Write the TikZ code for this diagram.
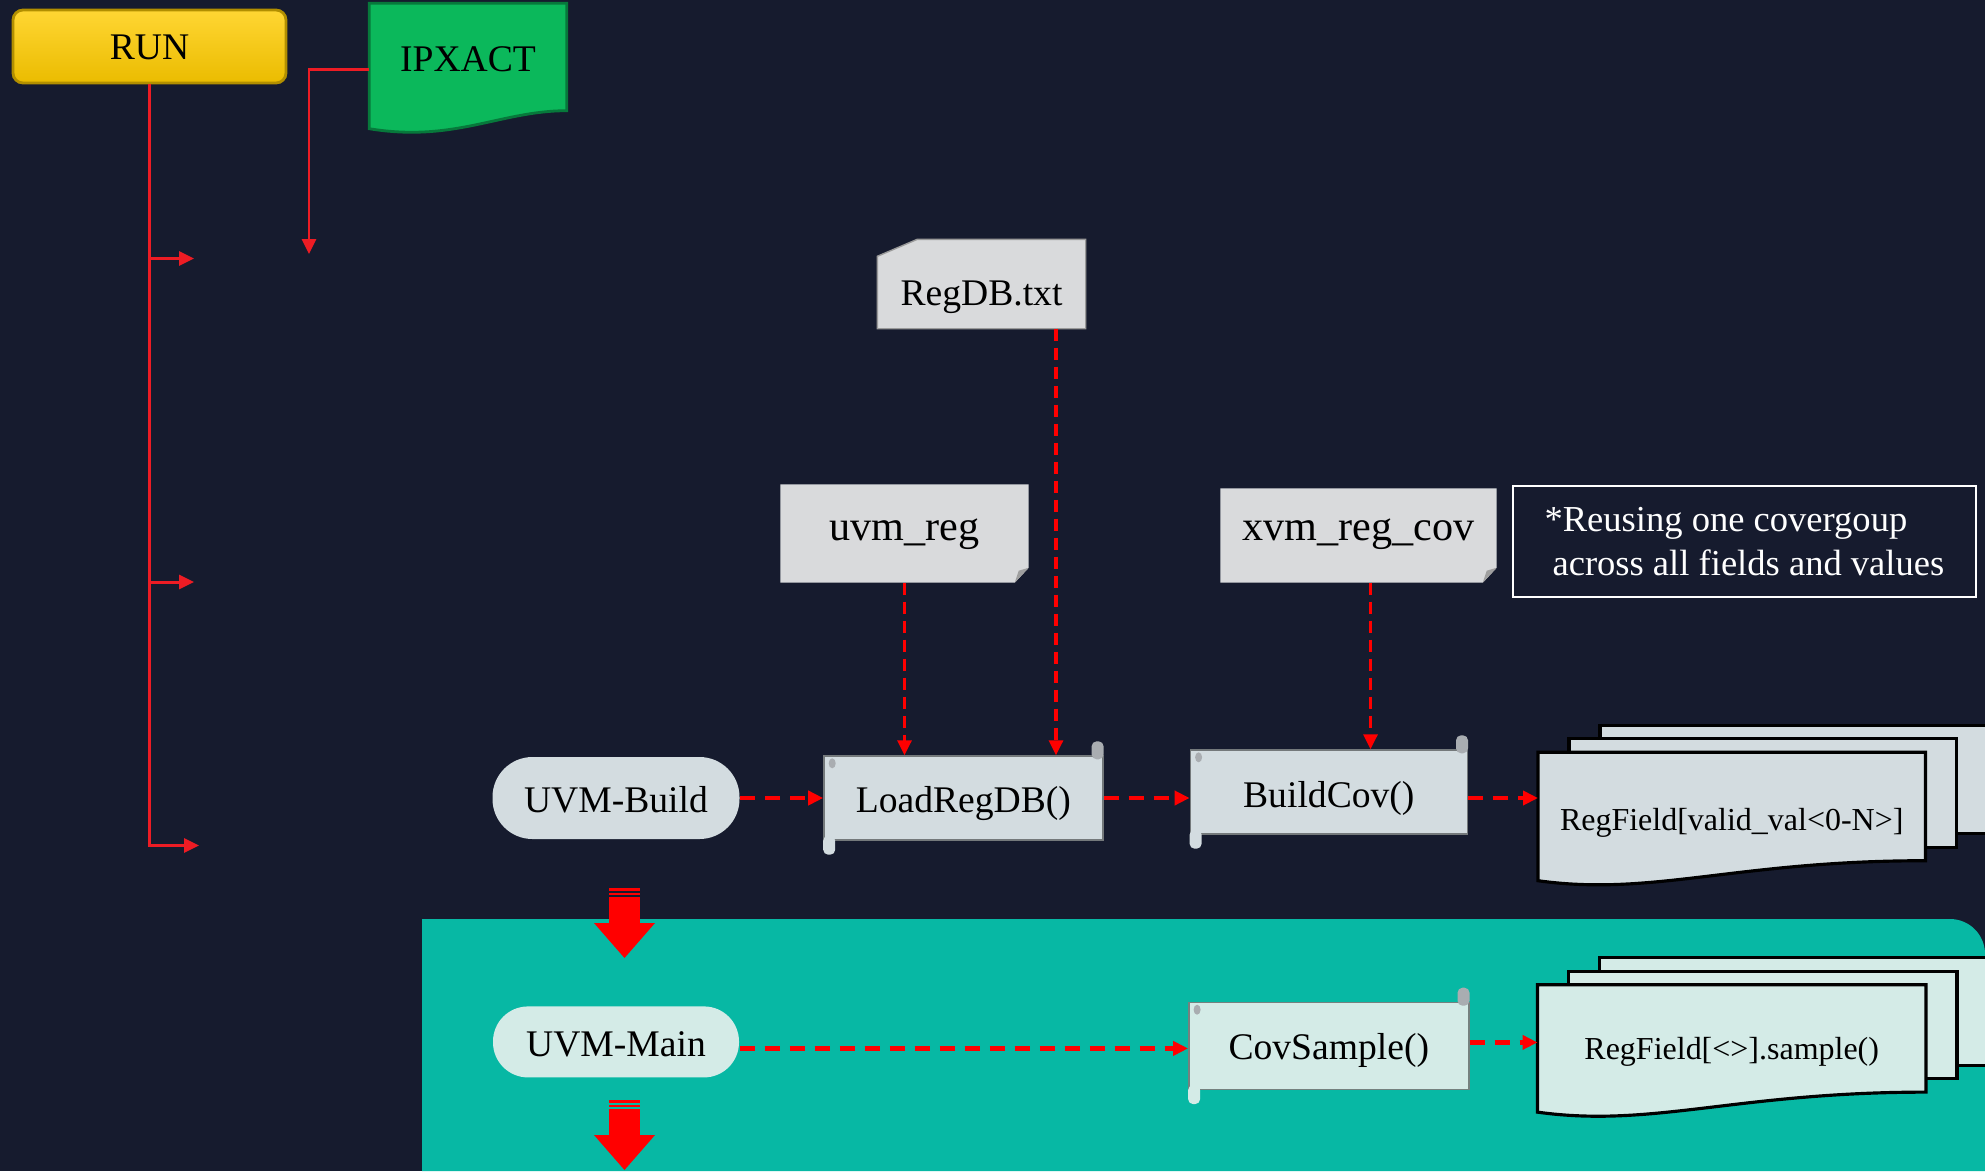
\documentclass[tikz,border=0pt]{standalone}
\usepackage{fontspec}
\setmainfont{Liberation Serif}
\usetikzlibrary{arrows.meta, positioning}

\definecolor{pagebg}{HTML}{161B2E}
\definecolor{tealbg}{HTML}{07B8A4}
\definecolor{cardgray}{HTML}{D9DADC}
\definecolor{bodygray}{HTML}{D3DCE0}
\definecolor{bodymint}{HTML}{D4EBE7}
\definecolor{curlgray}{HTML}{A9ADB1}
\definecolor{runyellow}{HTML}{FFCC00}
\definecolor{ipgreen}{HTML}{0BB85B}
\definecolor{runred}{HTML}{ED1C24}

\pgfdeclarelayer{bg}
\pgfsetlayers{bg,main}

\begin{document}
\begin{tikzpicture}[
        node distance=0.8cm,
        every node/.style={inner sep=0pt, font=\fontsize{10.7}{12.8}\selectfont},
        textbox/.style 2 args={text height=#1, text depth=#2},
        runbox/.style={rectangle, rounded corners=0.1cm, top color=runyellow!80!white, bottom color=runyellow!92!black, draw=runyellow!70!black, line width=0.8pt, minimum width=2.73cm},
        pillbox/.style={rectangle, rounded corners=#1, minimum width=2.47cm},
        scrollbox/.style={rectangle, fill=#1, draw=#1!55!black, line width=0.4pt, minimum width=2.79cm},
        sheettext/.style={minimum width=3.86cm, font=\fontsize{9.1}{11}\selectfont},
        notebox/.style={rectangle, draw=white, line width=0.7pt, text=white, align=left, minimum width=4.63cm, minimum height=1.11cm, font=\fontsize{10.4}{12.5}\selectfont},
        sheet/.style={draw=black, line width=0.9pt},
        runarrow/.style={-{Triangle[length=0.15cm, width=0.14cm]}, runred, line width=0.85pt},
        flowarrow/.style={-{Triangle[length=0.15cm, width=0.14cm]}, red, line width=1.2pt, dash pattern=on 0.15cm off 0.1cm},
        feedarrow/.style={-{Triangle[length=0.15cm, width=0.14cm]}, red, line width=0.9pt, dash pattern=on 0.12cm off 0.07cm}
    ]
        \useasboundingbox (0,0) rectangle (19.85,-11.71);

        % Inputs
        \node[runbox, textbox={0.49cm}{0.24cm}] (run) at (1.495,-0.465) {RUN};
        \node[minimum width=1.96cm, textbox={0.67cm}{0.39cm}] (ipxact) at (4.68,-0.57) {IPXACT};
        \node[minimum width=2.07cm, textbox={0.65cm}{0.23cm}] (regdb) at (9.815,-2.84) {RegDB.txt};
        \node[minimum width=2.47cm, textbox={0.55cm}{0.42cm}, font=\fontsize{12}{14}\selectfont] (uvmreg) at (9.045,-5.335) {uvm\_reg};
        \node[minimum width=2.75cm, textbox={0.51cm}{0.42cm}, font=\fontsize{12}{14}\selectfont] (xvm) at (13.585,-5.355) {xvm\_reg\_cov};
        \node[notebox, right=0.15cm of xvm, yshift=-0.06cm] (note) {*Reusing one covergoup\\\hspace*{0.08cm}across all fields and values};

        % Build phase
        \node[pillbox=0.4cm, fill=bodygray, textbox={0.55cm}{0.27cm}] (build) at (6.16,-7.98) {UVM-Build};
        \node[scrollbox=bodygray, textbox={0.56cm}{0.28cm}, right=0.83cm of build] (load) {LoadRegDB()};
        \node[scrollbox=bodygray, minimum width=2.77cm, textbox={0.57cm}{0.27cm}, right=0.86cm of load, yshift=0.06cm] (bcov) {BuildCov()};
        \node[sheettext, textbox={0.77cm}{0.30cm}, right=0.70cm of bcov, yshift=-0.145cm] (fieldA) {RegField[valid\_val<0-N>]};

        % Main phase
        \node[pillbox=0.35cm, fill=bodymint, minimum width=2.46cm, textbox={0.50cm}{0.21cm}, below=1.66cm of build] (main) {UVM-Main};
        \node[scrollbox=bodymint, minimum width=2.80cm, textbox={0.57cm}{0.30cm}, below=1.67cm of bcov] (csamp) {CovSample()};
        \node[sheettext, minimum width=3.87cm, textbox={0.74cm}{0.32cm}, below=1.24cm of fieldA] (fieldB) {RegField[<>].sample()};

        % Shapes behind the texts
        \begin{pgfonlayer}{bg}
            \fill[pagebg] (0,0) rectangle (19.85,-11.71);
            \fill[tealbg] (4.22,-11.71) -- (4.22,-9.19) -- (19.5,-9.19) arc[start angle=90, end angle=0, radius=0.35] -- (19.85,-11.71) -- cycle;
            \filldraw[fill=ipgreen, draw=ipgreen!65!black, line width=0.8pt] (ipxact.north west) -- (ipxact.north east) -- (ipxact.south east)
                .. controls ([xshift=-0.66cm]ipxact.south east) and ([shift={(0.85,-0.32)}]ipxact.south west) .. ([yshift=-0.18cm]ipxact.south west) -- cycle;
            \filldraw[fill=cardgray, draw=gray!80, line width=0.4pt] ([yshift=-0.17cm]regdb.north west) -- ([xshift=0.40cm]regdb.north west)
                -- (regdb.north east) -- (regdb.south east) -- (regdb.south west) -- cycle;
            \foreach \card in {uvmreg, xvm} {
                \fill[cardgray] (\card.north west) -- (\card.north east) -- ([yshift=0.15cm]\card.south east)
                    -- ([xshift=-0.14cm]\card.south east) -- (\card.south west) -- cycle;
                \fill[gray!75] ([yshift=0.15cm]\card.south east) -- ([xshift=-0.14cm]\card.south east) -- ([shift={(-0.1,0.12)}]\card.south east) -- cycle;
            }
            \foreach \sheet/\col in {fieldA/bodygray, fieldB/bodymint} {
                \filldraw[sheet, fill=\col] ([shift={(0.62,0.27)}]\sheet.south west) rectangle ([shift={(0.62,0.27)}]\sheet.north east);
                \filldraw[sheet, fill=\col] ([shift={(0.31,0.135)}]\sheet.south west) rectangle ([shift={(0.31,0.135)}]\sheet.north east);
                \filldraw[sheet, fill=\col] (\sheet.north west) -- (\sheet.north east) -- (\sheet.south east)
                    .. controls ([xshift=-1.9cm]\sheet.south east) and ([shift={(1.15,-0.36)}]\sheet.south west) .. ([yshift=-0.2cm]\sheet.south west) -- cycle;
            }
        \end{pgfonlayer}

        % Scroll curls
        \foreach \roll/\col in {load/bodygray, bcov/bodygray, csamp/bodymint} {
            \fill[curlgray, rounded corners=0.05cm] ([shift={(-0.12,-0.04)}]\roll.north east) rectangle ([yshift=0.14cm]\roll.north east);
            \fill[\col, rounded corners=0.05cm] ([yshift=0.05cm]\roll.south west) rectangle ([shift={(0.12,-0.14)}]\roll.south west);
            \fill[curlgray] ([shift={(0.09,-0.08)}]\roll.north west) ellipse [x radius=0.035cm, y radius=0.05cm];
        }

        % Run branches
        \coordinate (tipA) at (1.94,-2.585);
        \coordinate (tipB) at (1.94,-5.82);
        \coordinate (tipC) at (1.99,-8.455);
        \coordinate (tipD) at (3.09,-2.54);
        \draw[runarrow] (run.south) |- (tipC);
        \draw[runarrow] (run.south |- tipA) -- (tipA);
        \draw[runarrow] (run.south |- tipB) -- (tipB);
        \draw[runarrow] ([yshift=-0.12cm]ipxact.west) -| (tipD);

        % Arrows down
        \draw[feedarrow] (uvmreg.south) -- (uvmreg.south |- load.north);
        \draw[feedarrow] ([xshift=0.745cm]regdb.south) -- ([xshift=0.745cm]regdb.south |- load.north);
        \draw[feedarrow] ([xshift=0.12cm]xvm.south) -- ([xshift=0.12cm]xvm.south |- bcov.north);

        % Arrows rows
        \draw[flowarrow] (build) -- (load);
        \draw[flowarrow] (load.east) -- (load.east -| bcov.west);
        \draw[flowarrow] (bcov.east |- load.east) -- (load.east -| fieldA.west);
        \draw[flowarrow] ([yshift=-0.065cm]main.east) -- ([yshift=-0.065cm]main.east -| csamp.west);
        \draw[flowarrow] ([yshift=0.035cm]csamp.east) -- ([yshift=0.035cm]csamp.east -| fieldB.west);

        % Phase arrows
        \foreach \ytop in {-8.88, -11.00} {
            \fill[red] (6.09,\ytop) rectangle ++(0.31,-0.025);
            \fill[red] (6.09,\ytop) ++(0,-0.045) rectangle ++(0.31,-0.025);
            \fill[red] (6.09,\ytop) ++(0,-0.09) rectangle ++(0.31,-0.26);
            \fill[red] (5.94,\ytop) ++(0,-0.35) -- ++(0.61,0) -- ++(-0.305,-0.35) -- cycle;
        }
    \end{tikzpicture}
\end{document}
